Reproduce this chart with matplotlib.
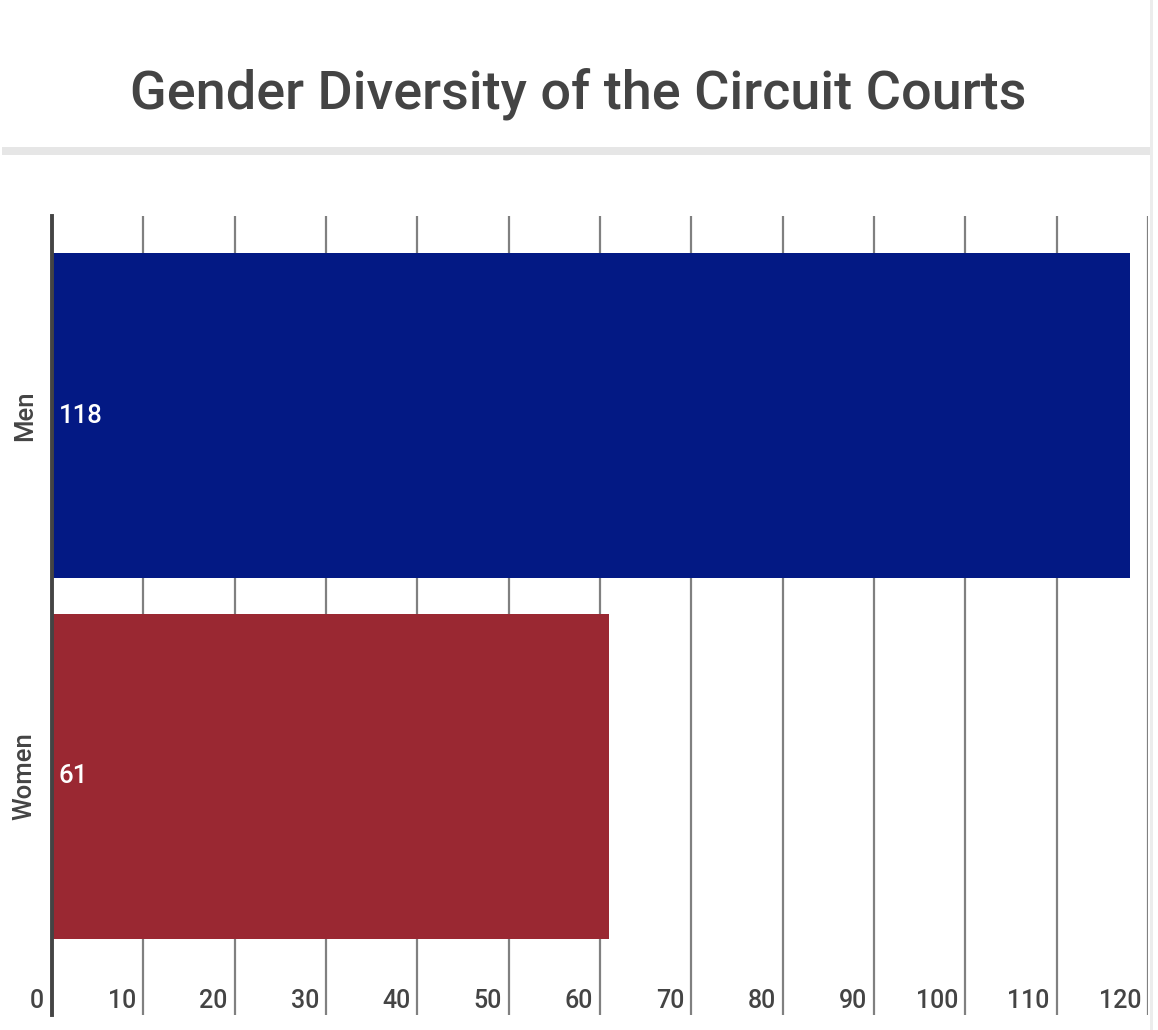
import matplotlib
matplotlib.use("Agg")
import matplotlib.pyplot as plt
from matplotlib.patches import Rectangle

title = "Gender Diversity of the Circuit Courts"
categories = ["Men", "Women"]
values = [118, 61]
bar_colors = ["#031984", "#9a2832"]
xticks = [0, 10, 20, 30, 40, 50, 60, 70, 80, 90, 100, 110, 120]

W, H = 1158, 1030
fig = plt.figure(figsize=(W / 100, H / 100), dpi=100)
fig.patch.set_facecolor("white")

# header band & right page edge
fig.add_artist(Rectangle((2 / W, 1 - 155 / H), 1148 / W, 8 / H,
                         transform=fig.transFigure, color="#e6e6e6", lw=0))
fig.add_artist(Rectangle((1150 / W, 0), 3 / W, 1,
                         transform=fig.transFigure, color="#ececec", lw=0))

t = fig.text(578 / W, 1 - 94 / H, title, ha="center", va="center",
             fontsize=42, color="#444444", family="Roboto", weight="medium")
fig.canvas.draw()
bb = t.get_window_extent()
t.set_fontsize(42 * 897 / bb.width)

left, right, top, bottom = 52, 1148, 216, 1015
ax = fig.add_axes([left / W, 1 - bottom / H, (right - left) / W, (bottom - top) / H])
ax.set_xlim(0, 120)
ax.set_ylim(1.662, -0.554)

for x in xticks[1:]:
    ax.axvline(x, color="#808080", lw=1.6, zorder=0)

ys = list(range(len(categories)))
ax.barh(ys, values, height=0.9, color=bar_colors, zorder=2)

for y, v in zip(ys, values):
    ax.text(0.7, y, str(v), color="white", fontsize=18.5, family="Roboto",
            weight="medium", ha="left", va="center", zorder=3)

for s in ["top", "right", "bottom"]:
    ax.spines[s].set_visible(False)
ax.spines["left"].set_color("#444444")
ax.spines["left"].set_linewidth(2.8)
ax.spines["left"].set_zorder(4)

ax.set_xticks([])
ax.set_yticks(ys)
ax.set_yticklabels(categories, rotation=90, va="center", fontsize=18.5,
                   family="Roboto", weight="medium", color="#444444")
ax.tick_params(axis="y", length=0, pad=11)

for x in xticks:
    ax.annotate(str(x), xy=(x, 0), xycoords=("data", "axes fraction"),
                xytext=(-5 if x else -6, 10), textcoords="offset points",
                ha="right", va="center", fontsize=18, family="Roboto",
                weight="medium", color="#444444")

fig.savefig("out.png", dpi=100, facecolor="white")
